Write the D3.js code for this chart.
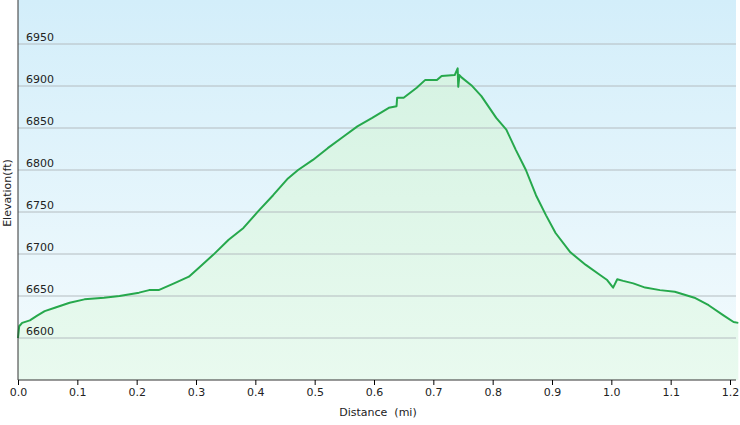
<!DOCTYPE html>
<html>
<head>
<meta charset="utf-8">
<script src="https://cdn.jsdelivr.net/npm/d3@7"></script>
<style>
body { margin: 0; background: #fff; font-family: Verdana, "DejaVu Sans", sans-serif; }
</style>
</head>
<body>
<div id="chart"></div>
<script>
// Datos del perfil
const distances = [0, 0.002, 0.007, 0.020, 0.033, 0.045, 0.062, 0.087, 0.112, 0.145, 0.171, 0.204, 0.221, 0.237,
  0.263, 0.288, 0.304, 0.329, 0.355, 0.380, 0.405, 0.430, 0.455, 0.472, 0.497, 0.522, 0.547, 0.572, 0.597,
  0.625, 0.638, 0.639, 0.650, 0.672, 0.686, 0.706, 0.714, 0.736, 0.741, 0.742, 0.744, 0.748, 0.764, 0.781,
  0.806, 0.823, 0.839, 0.856, 0.873, 0.890, 0.906, 0.931, 0.957, 0.981, 0.993, 1.003, 1.010, 1.020, 1.037,
  1.057, 1.082, 1.107, 1.140, 1.164, 1.189, 1.206, 1.214];
const elevations = [6600, 6614, 6618, 6621, 6627, 6632, 6636, 6642, 6646, 6648, 6650, 6654, 6657, 6657,
  6665, 6673, 6683, 6699, 6717, 6731, 6751, 6770, 6790, 6800, 6812, 6826, 6839, 6852, 6862,
  6874, 6876, 6886, 6886, 6898, 6907, 6907, 6912, 6913, 6921, 6899, 6913, 6910, 6901, 6888,
  6862, 6848, 6824, 6800, 6770, 6746, 6725, 6702, 6687, 6675, 6669, 6660, 6670, 6668, 6665,
  6660, 6657, 6655, 6648, 6639, 6627, 6619, 6618];
const yTicks = [6600, 6650, 6700, 6750, 6800, 6850, 6900, 6950];
const xTicks = [0, 0.1, 0.2, 0.3, 0.4, 0.5, 0.6, 0.7, 0.8, 0.9, 1.0, 1.1, 1.2];

const data = distances.map((d, i) => ({ d: d, e: elevations[i] }));

const W = 740, H = 425;
const margin = { top: 0, right: 4, bottom: 45, left: 18 };
const width = W - margin.left - margin.right;
const height = H - margin.top - margin.bottom;

const svg = d3.select("#chart").append("svg")
    .attr("width", W).attr("height", H);

const defs = svg.append("defs");
const bg = defs.append("linearGradient").attr("id", "bg")
    .attr("x1", 0).attr("y1", 0).attr("x2", 0).attr("y2", 1);
bg.append("stop").attr("offset", "0%").attr("stop-color", "#d3eefa");
bg.append("stop").attr("offset", "100%").attr("stop-color", "#f4fbfd");
const fill = defs.append("linearGradient").attr("id", "fill")
    .attr("x1", 0).attr("y1", 0).attr("x2", 0).attr("y2", 1);
fill.append("stop").attr("offset", "0%").attr("stop-color", "#d6f3e3");
fill.append("stop").attr("offset", "100%").attr("stop-color", "#e9faef");

const g = svg.append("g").attr("transform", `translate(${margin.left},${margin.top})`);

const x = d3.scaleLinear().domain([0, 1.2]).range([0, 712]);
const y = d3.scaleLinear().domain([6550, 6550 + height / 0.84]).range([height, 0]);

g.append("rect").attr("width", width).attr("height", height).attr("fill", "url(#bg)");

g.append("path").datum(data)
    .attr("fill", "url(#fill)")
    .attr("d", d3.area().x(d => x(d.d)).y0(height).y1(d => y(d.e)));

// Rejilla
g.selectAll(".grid").data(yTicks).enter().append("line")
    .attr("x1", 0).attr("x2", width)
    .attr("y1", d => y(d)).attr("y2", d => y(d))
    .attr("stroke", "#b4bcc0").attr("stroke-width", 1);

g.selectAll(".ylab").data(yTicks).enter().append("text")
    .attr("x", 8).attr("y", d => y(d) - 3)
    .style("font-size", "11px").attr("fill", "#222")
    .text(d => d);

g.append("path").datum(data)
    .attr("fill", "none").attr("stroke", "#26a84c").attr("stroke-width", 2)
    .attr("stroke-linejoin", "round")
    .attr("d", d3.line().x(d => x(d.d)).y(d => y(d.e)));

// Ejes
g.append("line").attr("x1", 0).attr("x2", 0).attr("y1", 0).attr("y2", height)
    .attr("stroke", "#333");
const xAxis = g.append("g").attr("transform", `translate(0,${height})`)
    .call(d3.axisBottom(x).tickValues(xTicks).tickFormat(d3.format(".1f")).tickSize(5));
xAxis.select(".domain").attr("stroke", "#333").attr("d", `M0,0H${width}`);
xAxis.selectAll("text").style("font-size", "11px").style("font-family", "Verdana, 'DejaVu Sans', sans-serif").attr("fill", "#222");

svg.append("text").attr("x", W / 2 + 8).attr("y", 416).attr("text-anchor", "middle")
    .style("font-size", "11px").attr("fill", "#222").attr("xml:space", "preserve").text("Distance  (mi)");
svg.append("text").attr("transform", "translate(11,193) rotate(-90)").attr("text-anchor", "middle")
    .style("font-size", "11px").attr("fill", "#222").text("Elevation(ft)");
</script>
</body>
</html>
